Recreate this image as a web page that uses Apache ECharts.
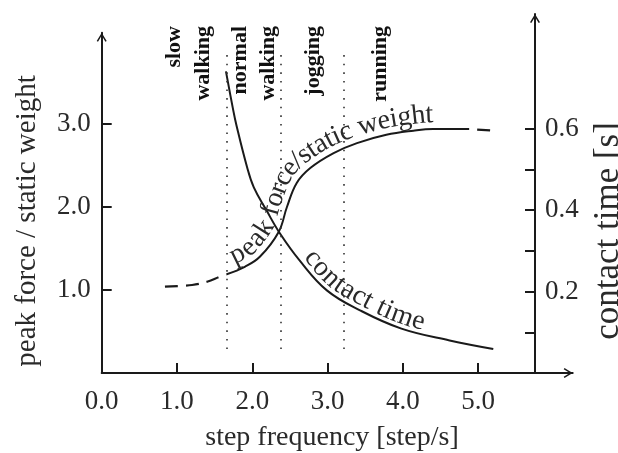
<!DOCTYPE html>
<html><head><meta charset="utf-8">
<script src="https://cdn.jsdelivr.net/npm/echarts@6/dist/echarts.min.js"></script>
<style>html,body{margin:0;padding:0;background:#fff}#c{width:618px;height:453px}</style>
</head><body><div id="c"></div>
<script>
// ---- data ----
const forceLeadX = [0.84, 1.20, 1.40, 1.57, 1.66];
const forceLeadY = [1.04, 1.06, 1.10, 1.16, 1.19];
const forceX = [1.66, 1.90, 2.10, 2.35, 2.46, 2.59, 2.77, 3.08, 3.39, 3.78, 4.14, 4.40, 4.88];
const forceY = [1.19, 1.28, 1.40, 1.70, 2.00, 2.29, 2.47, 2.65, 2.77, 2.87, 2.92, 2.94, 2.94];
const forceTailX = [4.88, 5.20];
const forceTailY = [2.94, 2.92];
const contactX = [1.65, 1.74, 1.79, 1.93, 2.02, 2.19, 2.37, 2.63, 2.99, 3.43, 3.98, 4.62, 5.20];
const contactY = [0.741, 0.652, 0.608, 0.506, 0.456, 0.399, 0.342, 0.276, 0.203, 0.154, 0.109, 0.080, 0.059];
const xTicks = [0, 1, 2, 3, 4, 5];
const forceTicks = [1, 2, 3];
const contactTicks = [0.2, 0.4, 0.6];
const contactMinorTicks = [0.1, 0.2, 0.3, 0.4, 0.5, 0.6];
const zoneBounds = [1.66, 2.38, 3.22];
const zoneTop = 3.83, zoneBottom = 0.277;
const gaitLabels = ['slow', 'walking', 'normal', 'walking', 'jogging', 'running'];
const forceLabel = 'peak force/static weight';
const contactLabel = 'contact time';
const xTitle = 'step frequency [step/s]';
const leftTitle = 'peak force / static weight';
const rightTitle = 'contact time [s]';

// ---- chart ----
const zip = (a, b) => a.map((v, i) => [v, b[i]]);
const SERIF = '"Liberation Serif", "Times New Roman", serif';
const INK = '#1a1a1a';
const TXT = '#2a2a2a';
const arrow = 'path://M5,0 L10,8.2 L8.7,9 L5,2.9 L1.3,9 L0,8.2 Z';
const axisLine = {show: true, onZero: false, lineStyle: {color: INK, width: 2},
  symbol: ['none', arrow], symbolSize: [10, 9], symbolOffset: [0, -4.5]};
const lblStyle = {fontFamily: SERIF, fontSize: 27, color: TXT};

const chart = echarts.init(document.getElementById('c'), null, {renderer: 'canvas'});
chart.setOption({
  animation: false,
  backgroundColor: '#fff',
  grid: [
    {left: 101.7, right: 45.3, top: 32.7, bottom: 80},
    {left: 101.7, right: 83, top: 14, bottom: 80}
  ],
  xAxis: [
    {type: 'value', gridIndex: 0, min: 0, max: 6.255,
     axisLine: axisLine,
     axisTick: {show: true, inside: true, length: 10, lineStyle: {color: INK, width: 2}, customValues: xTicks.slice(1)},
     axisLabel: Object.assign({customValues: xTicks, margin: 15, formatter: v => v.toFixed(1)}, lblStyle),
     splitLine: {show: false}},
    {type: 'value', gridIndex: 1, min: 0, max: 5.754, show: false}
  ],
  yAxis: [
    {type: 'value', gridIndex: 0, min: 0, max: 4.1, position: 'left',
     axisLine: axisLine,
     axisTick: {show: true, inside: true, length: 10, lineStyle: {color: INK, width: 2}, customValues: forceTicks},
     axisLabel: Object.assign({customValues: forceTicks, margin: 11, formatter: v => v.toFixed(1)}, lblStyle),
     splitLine: {show: false}},
    {type: 'value', gridIndex: 1, min: 0, max: 0.882, position: 'right',
     axisLine: axisLine,
     axisTick: {show: true, inside: true, length: 10, lineStyle: {color: INK, width: 2}, customValues: contactMinorTicks},
     axisLabel: Object.assign({customValues: contactTicks, margin: 10, formatter: v => v.toFixed(1)}, lblStyle),
     splitLine: {show: false}}
  ],
  series: [
    {type: 'line', xAxisIndex: 0, yAxisIndex: 0, data: zip(forceLeadX, forceLeadY), symbol: 'none', smooth: 0.4,
     lineStyle: {color: INK, width: 2.2, type: [13, 8]}},
    {type: 'line', xAxisIndex: 0, yAxisIndex: 0, data: zip(forceX, forceY), symbol: 'none', smooth: 0.4,
     lineStyle: {color: INK, width: 2},
     markLine: {silent: true, symbol: ['none', 'none'], label: {show: false},
       lineStyle: {color: '#333', width: 1.6, type: [1.6, 7]},
       data: zoneBounds.map(x => [{coord: [x, zoneTop]}, {coord: [x, zoneBottom]}])}},
    {type: 'line', xAxisIndex: 0, yAxisIndex: 0, data: zip(forceTailX, forceTailY), symbol: 'none',
     lineStyle: {color: INK, width: 2.2, type: [13, 8], dashOffset: 13}},
    {type: 'line', xAxisIndex: 1, yAxisIndex: 1, data: zip(contactX, contactY), symbol: 'none', smooth: 0.4,
     lineStyle: {color: INK, width: 2}}
  ]
});

// ---- annotations ----
function catmull(pts, n) {
  const out = [];
  for (let i = 0; i < pts.length - 1; i++) {
    const p0 = pts[Math.max(i - 1, 0)], p1 = pts[i], p2 = pts[i + 1], p3 = pts[Math.min(i + 2, pts.length - 1)];
    for (let k = 0; k < n; k++) {
      const t = k / n, t2 = t * t, t3 = t2 * t;
      const f = j => 0.5 * (2 * p1[j] + (-p0[j] + p2[j]) * t + (2 * p0[j] - 5 * p1[j] + 4 * p2[j] - p3[j]) * t2 + (-p0[j] + 3 * p1[j] - 3 * p2[j] + p3[j]) * t3);
      out.push([f(0), f(1)]);
    }
  }
  out.push(pts[pts.length - 1]);
  return out;
}
const measureCtx = document.createElement('canvas').getContext('2d');
function textAlong(pts, text, startPx, off, fs, color) {
  const dense = catmull(pts, 16);
  const q = dense.map((p, i) => {
    const a = dense[Math.max(i - 3, 0)], b = dense[Math.min(i + 3, dense.length - 1)];
    let dx = b[0] - a[0], dy = b[1] - a[1]; const L = Math.hypot(dx, dy) || 1; dx /= L; dy /= L;
    return [p[0] + dy * off, p[1] - dx * off];
  });
  const cum = [0];
  for (let i = 1; i < q.length; i++) cum.push(cum[i - 1] + Math.hypot(q[i][0] - q[i - 1][0], q[i][1] - q[i - 1][1]));
  let s = 0;
  for (let i = 0; i < q.length; i++) { if (q[i][0] >= startPx) { s = cum[i]; break; } }
  const at = (sv) => {
    let i = 1; while (i < cum.length - 1 && cum[i] < sv) i++;
    const a = q[i - 1], b = q[i]; const seg = cum[i] - cum[i - 1] || 1; const t = (sv - cum[i - 1]) / seg;
    const a2 = q[Math.max(i - 4, 0)], b2 = q[Math.min(i + 3, q.length - 1)];
    return {x: a[0] + (b[0] - a[0]) * t, y: a[1] + (b[1] - a[1]) * t, ang: Math.atan2(b2[1] - a2[1], b2[0] - a2[0])};
  };
  measureCtx.font = fs + 'px ' + SERIF;
  const els = [];
  for (const ch of text) {
    const w = measureCtx.measureText(ch).width;
    const p = at(s + w / 2);
    els.push({type: 'text', x: p.x, y: p.y, rotation: -p.ang, z: 50,
      style: {text: ch, fill: color, font: fs + 'px ' + SERIF, fontSize: fs, fontFamily: SERIF,
        align: 'center', verticalAlign: 'middle', textAlign: 'center', textVerticalAlign: 'middle'}});
    s += w;
  }
  return els;
}
const px0 = (x, y) => chart.convertToPixel({xAxisIndex: 0, yAxisIndex: 0}, [x, y]);
const px1 = (x, y) => chart.convertToPixel({xAxisIndex: 1, yAxisIndex: 1}, [x, y]);

const forcePts = forceLeadX.slice(0, -1).map((x, i) => px0(x, forceLeadY[i])).concat(forceX.map((x, i) => px0(x, forceY[i])));
const contactPts = contactX.map((x, i) => px1(x, contactY[i]));

const g = [];
g.push(...textAlong(forcePts, forceLabel, px0(1.72, 0)[0], 14, 28, TXT));
g.push(...textAlong(contactPts, contactLabel, px1(2.74, 0)[0], 12, 28, TXT));

const gaitX = [0.97, 1.35, 1.84, 2.21, 2.81, 3.70];
gaitLabels.forEach((t, i) => {
  g.push({type: 'text', x: px0(gaitX[i], 0)[0], y: 26, rotation: Math.PI / 2, z: 50,
    style: {text: t, fill: '#111', font: 'bold 22px ' + SERIF, fontSize: 22, fontWeight: 'bold', fontFamily: SERIF,
      align: 'right', verticalAlign: 'middle', textAlign: 'right', textVerticalAlign: 'middle'}});
});
const title = (text, x, y, rot, fs) => ({type: 'text', x, y, rotation: rot, z: 50,
  style: {text, fill: TXT, font: fs + 'px ' + SERIF, fontSize: fs, fontFamily: SERIF,
    align: 'center', verticalAlign: 'middle', textAlign: 'center', textVerticalAlign: 'middle'}});
g.push(title(xTitle, 332, 438, 0, 28));
g.push(title(leftTitle, 27, 221, Math.PI / 2, 29));
g.push(title(rightTitle, 609, 231, Math.PI / 2, 35));
chart.setOption({graphic: g});
</script></body></html>
